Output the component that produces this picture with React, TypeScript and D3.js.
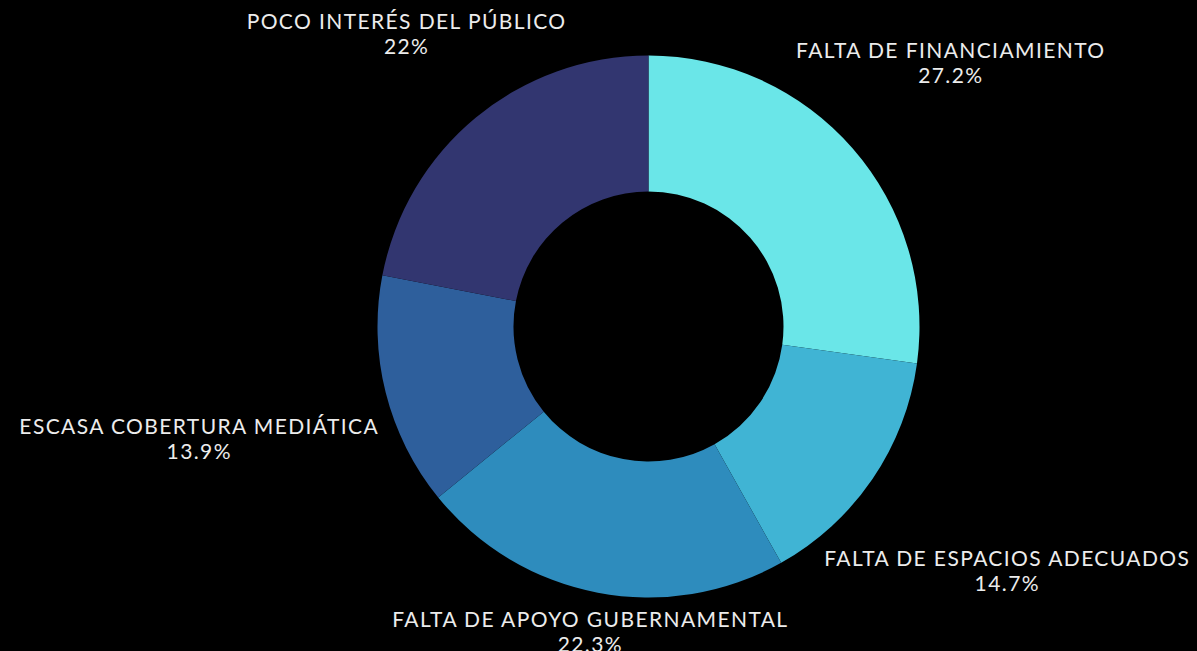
import React from "react";
import * as d3 from "d3";

const categories = [
  "FALTA DE FINANCIAMIENTO",
  "FALTA DE ESPACIOS ADECUADOS",
  "FALTA DE APOYO GUBERNAMENTAL",
  "ESCASA COBERTURA MEDIÁTICA",
  "POCO INTERÉS DEL PÚBLICO",
];
const values = [27.2, 14.7, 22.3, 13.9, 22];
const valueLabels = ["27.2%", "14.7%", "22.3%", "13.9%", "22%"];
const colors = ["#6ae6e8", "#40b4d4", "#2e8cbd", "#2e5f9c", "#323670"];

const W = 1197;
const H = 651;
const CX = 648.5;
const CY = 326.5;
const R_OUT = 271;
const R_IN = 135;
const FONT_SIZE = 21;
const FONT = `${FONT_SIZE}px Lato, "Open Sans", sans-serif`;
const LETTER = 1.4;

function measure(text: string): number {
  const c = document.createElement("canvas");
  const ctx = c.getContext("2d")!;
  ctx.font = FONT;
  return ctx.measureText(text).width + LETTER * (text.length - 1);
}

export default function App() {
  const data = categories.map((c, i) => ({ c, v: values[i], l: valueLabels[i], col: colors[i] }));
  const pie = d3.pie<any>().sort(null).value((d) => d.v);
  const arcs = pie(data);
  const arc = d3.arc<any>().innerRadius(R_IN).outerRadius(R_OUT);

  const labels = arcs.map((a) => {
    const mid = (a.startAngle + a.endAngle) / 2;
    const dx = Math.sin(mid);
    const dy = -Math.cos(mid);
    const w = Math.max(measure(a.data.c), measure(a.data.l));
    const hw = w / 2;
    const hh = 20;
    const target = R_OUT + 14;
    const dist = (t: number) => {
      const cx = t * dx;
      const cy = t * dy;
      const nx = Math.max(cx - hw, Math.min(0, cx + hw));
      const ny = Math.max(cy - hh, Math.min(0, cy + hh));
      return Math.hypot(nx, ny);
    };
    let lo = 0, hi = 900;
    for (let k = 0; k < 60; k++) {
      const m = (lo + hi) / 2;
      if (dist(m) >= target) hi = m; else lo = m;
    }
    return { x: CX + hi * dx, y: CY + hi * dy, a };
  });

  return (
    <div style={{ position: "fixed", left: 0, top: 0, width: W, height: H, background: "#000" }}>
      <svg width={W} height={H} style={{ display: "block" }}>
        <rect width={W} height={H} fill="#000" />
        <g transform={`translate(${CX},${CY})`}>
          {arcs.map((a, i) => (
            <path key={i} d={arc(a) as string} fill={a.data.col} />
          ))}
        </g>
        {labels.map((lb, i) => (
          <text
            key={i}
            x={lb.x}
            textAnchor="middle"
            fill="#ececec"
            style={{ font: FONT, letterSpacing: `${LETTER}px` }}
          >
            <tspan x={lb.x} y={lb.y - 5}>{lb.a.data.c}</tspan>
            <tspan x={lb.x} y={lb.y + 20}>{lb.a.data.l}</tspan>
          </text>
        ))}
      </svg>
    </div>
  );
}
